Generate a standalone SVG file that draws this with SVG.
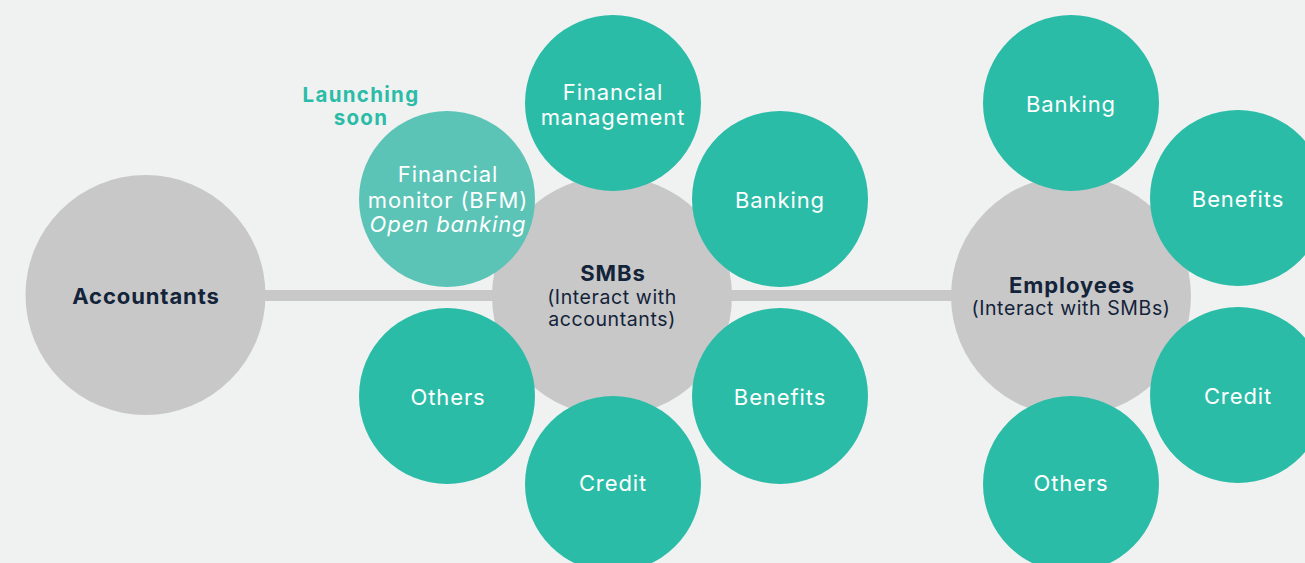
<svg xmlns="http://www.w3.org/2000/svg" width="1305" height="563" viewBox="0 0 1305 563">
<style>
.bg{fill:#f0f2f1}
.hub{fill:#c8c8c8}
.sat{fill:#2bbca8}
.soon{fill:#5cc4b6}
.conn{stroke:#c8c8c8;stroke-width:11;fill:none}
text{font-family:Inter,"Noto Sans","Liberation Sans",sans-serif;text-anchor:middle}
.w{fill:#ffffff;font-size:22px;letter-spacing:0.9px}
.d{fill:#13233a;font-size:19.5px;letter-spacing:0.6px}
.b{font-weight:700;font-size:22px;letter-spacing:0.9px}
.lab{fill:#2bbca8;font-size:20.5px;font-weight:700;letter-spacing:1.3px}
</style>
<rect class="bg" x="0" y="0" width="1305" height="563"/>
<g id="connectors">
<line class="conn" x1="200" y1="295.5" x2="1000" y2="295.5"/>
</g>
<g id="accountants"><circle class="hub" cx="145.5" cy="295" r="120"/><text class="d b" x="146" y="303.5">Accountants</text></g>
<g id="smbs"><circle class="hub" cx="612" cy="296" r="120"/><text class="d b" x="613" y="281">SMBs</text><text class="d" x="612" y="303.5">(Interact with</text><text class="d" x="612" y="325.5">accountants)</text></g>
<g id="employees"><circle class="hub" cx="1071" cy="296" r="120"/><text class="d b" x="1072" y="293">Employees</text><text class="d" x="1071" y="315">(Interact with SMBs)</text></g>
<g id="smb-financial-management"><circle class="sat" cx="613" cy="103" r="88"/><text class="w" x="613" y="100">Financial</text><text class="w" x="613" y="125">management</text></g>
<g id="smb-banking"><circle class="sat" cx="780" cy="199" r="88"/><text class="w" x="780" y="208">Banking</text></g>
<g id="smb-benefits"><circle class="sat" cx="780" cy="396" r="88"/><text class="w" x="780" y="405">Benefits</text></g>
<g id="smb-credit"><circle class="sat" cx="613" cy="484" r="88"/><text class="w" x="613" y="491">Credit</text></g>
<g id="smb-others"><circle class="sat" cx="447" cy="396" r="88"/><text class="w" x="448" y="405">Others</text></g>
<g id="smb-bfm"><circle class="soon" cx="447" cy="199" r="88"/><text class="w" x="448" y="182">Financial</text><text class="w" x="448" y="208">monitor (BFM)</text><text class="w" x="448" y="232" font-style="italic">Open banking</text></g>
<g id="launching-soon"><text class="lab" x="361" y="102">Launching</text><text class="lab" x="361" y="125">soon</text></g>
<g id="emp-banking"><circle class="sat" cx="1071" cy="103" r="88"/><text class="w" x="1071" y="112">Banking</text></g>
<g id="emp-benefits"><circle class="sat" cx="1238" cy="198" r="88"/><text class="w" x="1238" y="207">Benefits</text></g>
<g id="emp-credit"><circle class="sat" cx="1238" cy="395" r="88"/><text class="w" x="1238" y="404">Credit</text></g>
<g id="emp-others"><circle class="sat" cx="1071" cy="484" r="88"/><text class="w" x="1071" y="491">Others</text></g>
</svg>
